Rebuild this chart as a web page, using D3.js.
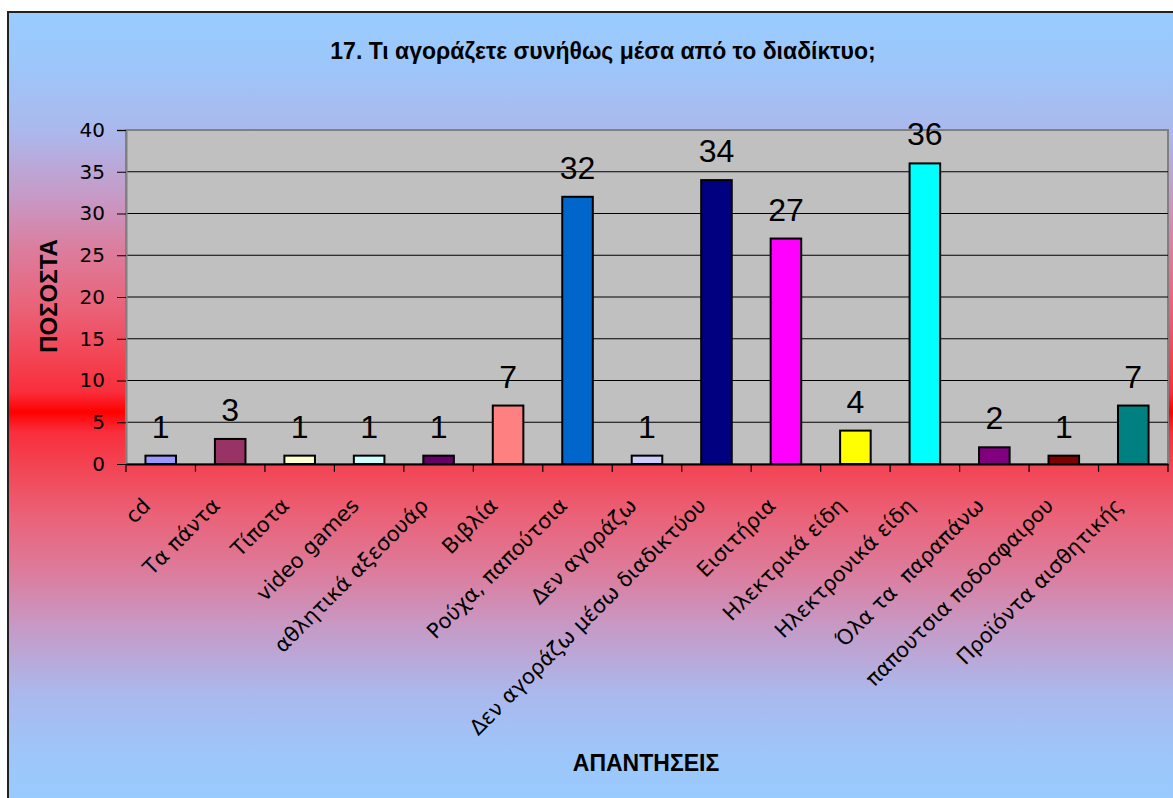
<!DOCTYPE html>
<html>
<head>
<meta charset="utf-8">
<script src="https://cdn.jsdelivr.net/npm/d3@7"></script>
<style>
  body { margin: 0; background: #fff; }
  svg { display: block; }
</style>
</head>
<body>
<svg id="chart" width="1173" height="798"></svg>
<script>
// answers and their percentages
const categories = ["cd", "Τα πάντα", "Τίποτα", "video games", "αθλητικά αξεσουάρ", "Βιβλία",
  "Ρούχα, παπούτσια", "Δεν αγοράζω", "Δεν αγοράζω μέσω διαδικτύου", "Εισιτήρια",
  "Ηλεκτρικά είδη", "Ηλεκτρονικά είδη", "Όλα τα  παραπάνω", "παπουτσια ποδοσφαιρου", "Προϊόντα αισθητικής"];
const values = [1, 3, 1, 1, 1, 7, 32, 1, 34, 27, 4, 36, 2, 1, 7];
const barColors = ["#9999FF", "#993366", "#FFFFCC", "#CCFFFF", "#660066", "#FF8080",
  "#0066CC", "#CCCCFF", "#000080", "#FF00FF", "#FFFF00", "#00FFFF", "#800080", "#800000", "#008080"];
const yTicks = [0, 5, 10, 15, 20, 25, 30, 35, 40];

const titleText = "17. Τι αγοράζετε συνήθως μέσα από το διαδίκτυο;";

const svg = d3.select("#chart");
const plot = {left: 126, right: 1168, top: 130, bottom: 464};

// background: blue -> red -> blue gradient
const defs = svg.append("defs");
const grad = defs.append("linearGradient").attr("id", "bg")
  .attr("x1", 0).attr("y1", 0).attr("x2", 0).attr("y2", 1);
const half = [[0, "#99CCFF"], [0.07, "#9DC6FA"], [0.15, "#ABB8EC"], [0.235, "#C898C4"],
  [0.30, "#DC7C9C"], [0.37, "#EA6278"], [0.44, "#F4404F"], [0.475, "#F92E3C"], [0.5, "#FF0000"]];
half.forEach(s => grad.append("stop").attr("offset", s[0]).attr("stop-color", s[1]));
half.slice(0, -1).reverse().forEach(s => grad.append("stop").attr("offset", 1 - s[0]).attr("stop-color", s[1]));

svg.append("rect")
  .attr("x", 8).attr("y", 12).attr("width", 1180).attr("height", 800)
  .attr("fill", "url(#bg)")
  .attr("stroke", "#222").attr("stroke-width", 2);

const x = d3.scaleBand().domain(categories)
  .range([plot.left, plot.right])
  .paddingInner(0.56).paddingOuter(0.28);
const y = d3.scaleLinear().domain([0, 40]).range([plot.bottom, plot.top]);

// plot area
svg.append("rect")
  .attr("x", plot.left).attr("y", plot.top)
  .attr("width", plot.right - plot.left).attr("height", plot.bottom - plot.top)
  .attr("fill", "#C0C0C0").attr("stroke", "#808080").attr("stroke-width", 2);

// gridlines
svg.append("g").selectAll("line")
  .data(yTicks.filter(t => t > 0 && t < 40))
  .join("line")
  .attr("x1", plot.left).attr("x2", plot.right)
  .attr("y1", d => y(d)).attr("y2", d => y(d))
  .attr("stroke", "#000").attr("stroke-width", 1);

// y axis
const yAxis = svg.append("g")
  .attr("transform", `translate(${plot.left},0)`)
  .call(d3.axisLeft(y).tickValues(yTicks).tickSize(9).tickPadding(12));
yAxis.select(".domain").attr("stroke", "#808080").attr("stroke-width", 2);
yAxis.selectAll(".tick line").attr("stroke", "#000");
yAxis.selectAll("text")
  .attr("font-family", "DejaVu Sans, sans-serif")
  .attr("font-size", 20).attr("fill", "#000");

// x axis line and category separators
const xAxis = svg.append("g")
  .attr("transform", `translate(0,${plot.bottom})`)
  .call(d3.axisBottom(x).tickSize(0).tickFormat(""));
xAxis.select(".domain").attr("stroke", "#000").attr("stroke-width", 2);
const step = x.step();
const bounds = categories.map(c => x(c) - step * x.paddingOuter()).concat([plot.right]);
svg.append("g").selectAll("line")
  .data(bounds)
  .join("line")
  .attr("x1", d => d).attr("x2", d => d)
  .attr("y1", plot.bottom).attr("y2", plot.bottom + 8)
  .attr("stroke", "#000").attr("stroke-width", 1.2);

// bars
svg.append("g").selectAll("rect")
  .data(values)
  .join("rect")
  .attr("x", (d, i) => x(categories[i]))
  .attr("y", d => y(d))
  .attr("width", x.bandwidth())
  .attr("height", d => y(0) - y(d))
  .attr("fill", (d, i) => barColors[i])
  .attr("stroke", "#000").attr("stroke-width", 2);

// value labels
svg.append("g").selectAll("text")
  .data(values)
  .join("text")
  .attr("x", (d, i) => x(categories[i]) + x.bandwidth() / 2)
  .attr("y", d => y(d) - 18)
  .attr("text-anchor", "middle")
  .attr("font-family", "Liberation Sans, Arial, sans-serif")
  .attr("font-size", 32)
  .text(d => d);

// rotated category labels
svg.append("g").selectAll("text")
  .data(categories)
  .join("text")
  .attr("transform", d => {
    const cx = x(d) + x.bandwidth() / 2 - 9, cy = 507;
    return `translate(${cx},${cy}) rotate(-45)`;
  })
  .attr("text-anchor", "end")
  .attr("font-family", "DejaVu Sans, sans-serif")
  .attr("font-size", 21)
  .attr("xml:space", "preserve")
  .text(d => d);

// titles
svg.append("text")
  .attr("x", 603).attr("y", 59)
  .attr("text-anchor", "middle")
  .attr("font-family", "Liberation Sans, Arial, sans-serif")
  .attr("font-weight", "bold").attr("font-size", 23)
  .text(titleText);

svg.append("text")
  .attr("transform", "translate(57,296) rotate(-90)")
  .attr("text-anchor", "middle")
  .attr("font-family", "Liberation Sans, Arial, sans-serif")
  .attr("font-weight", "bold").attr("font-size", 24)
  .text("ΠΟΣΟΣΤΑ");

svg.append("text")
  .attr("x", 646).attr("y", 771)
  .attr("text-anchor", "middle")
  .attr("font-family", "Liberation Sans, Arial, sans-serif")
  .attr("font-weight", "bold").attr("font-size", 23)
  .text("ΑΠΑΝΤΗΣΕΙΣ");
</script>
</body>
</html>
